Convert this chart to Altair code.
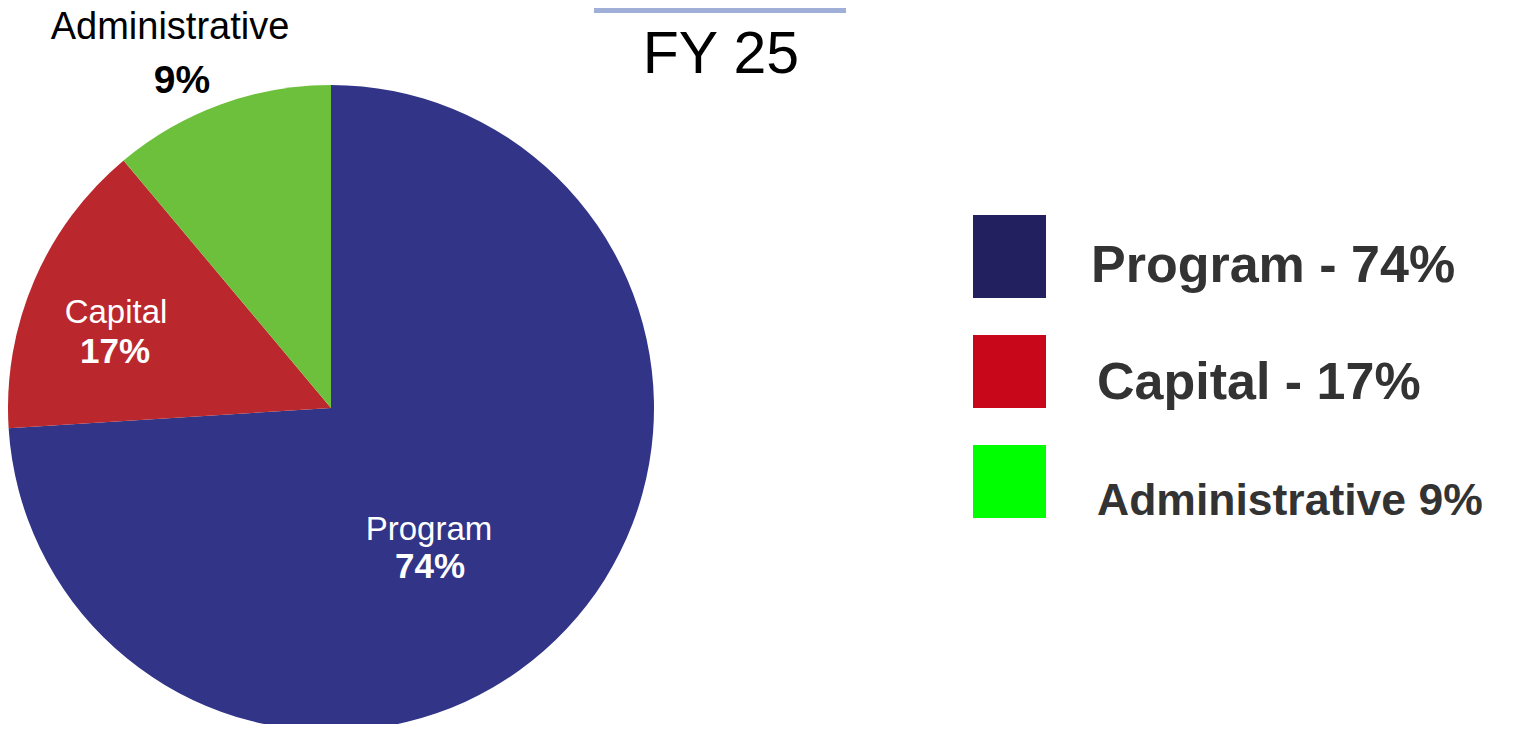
import altair as alt
import pandas as pd

# ---- data ----
categories = ["Program", "Capital", "Administrative"]
shares = [74.0, 14.9, 11.1]          # slice sizes as drawn
pct_labels = ["74%", "17%", "9%"]     # printed labels
legend_labels = ["Program - 74%", "Capital - 17%", "Administrative 9%"]
title_text = "FY 25"

pie_colors = ["#313487", "#BA282E", "#6CC03B"]
legend_colors = ["#23205F", "#C8071A", "#00FF00"]

df = pd.DataFrame({
    "category": categories,
    "share": shares,
    "pct": pct_labels,
    "legend": legend_labels,
    "order": list(range(len(categories))),
})

base = alt.Chart(df)
FONT = "Liberation Sans"

pie = base.mark_arc(radius=323).encode(
    theta=alt.Theta("share:Q", stack=True),
    order=alt.Order("order:Q"),
    color=alt.Color("category:N", scale=alt.Scale(domain=categories, range=pie_colors), legend=None),
    x=alt.value(323),
    y=alt.value(400),
)

def sel(cat):
    return base.transform_filter(alt.datum.category == cat)

layers = [pie]

# pie labels: (category, name pos, pct pos, name color, name size, pct size)
label_specs = [
    ("Program", (421, 532), (422, 570), "white", 33, 35),
    ("Capital", (108, 315), (107, 355), "white", 33, 35),
    ("Administrative", (162, 31), (174, 85), "black", 38, 39),
]
for cat, npos, ppos, col, nsize, psize in label_specs:
    layers.append(sel(cat).mark_text(font=FONT, fontSize=nsize, color=col, align="center", baseline="alphabetic").encode(
        text="category:N", x=alt.value(npos[0]), y=alt.value(npos[1])))
    layers.append(sel(cat).mark_text(font=FONT, fontSize=psize, fontWeight="bold", color=col, align="center", baseline="alphabetic").encode(
        text="pct:N", x=alt.value(ppos[0]), y=alt.value(ppos[1])))

# title and bar above it
tdf = pd.DataFrame({"t": [title_text]})
layers.append(alt.Chart(tdf).mark_rect(color="#9FAFD7").encode(
    x=alt.value(586), x2=alt.value(838), y=alt.value(0), y2=alt.value(5)))
layers.append(alt.Chart(tdf).mark_text(font=FONT, fontSize=59, color="black", align="center", baseline="alphabetic").encode(
    text="t:N", x=alt.value(713), y=alt.value(65)))

# custom legend
legend_specs = [
    ("Program", (207, 290), 1083, 274, 52),
    ("Capital", (327, 400), 1089, 391, 52),
    ("Administrative", (437, 510), 1089, 507, 44.5),
]
for (cat, (y1, y2), tx, ty, fs), lc in zip(legend_specs, legend_colors):
    layers.append(sel(cat).mark_rect(color=lc).encode(
        x=alt.value(965), x2=alt.value(1038), y=alt.value(y1), y2=alt.value(y2)))
    layers.append(sel(cat).mark_text(font=FONT, fontSize=fs, fontWeight="bold", color="#333333", align="left", baseline="alphabetic").encode(
        text="legend:N", x=alt.value(tx), y=alt.value(ty)))

chart = alt.layer(*layers).properties(
    width=1521, height=716,
    autosize=alt.AutoSizeParams(type="none"),
    padding=0,
).configure_view(stroke=None)

chart.save("out.html", embed_options={"renderer": "svg", "actions": False})
